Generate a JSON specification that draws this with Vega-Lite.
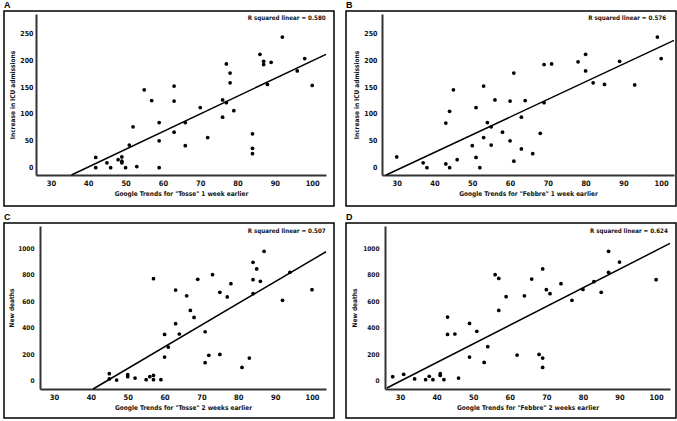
{
  "$schema": "https://vega.github.io/schema/vega-lite/v6.json",
  "padding": {"left": 3, "top": 0, "right": 0, "bottom": 0},
  "columns": 2,
  "spacing": {"row": 5, "column": 10},
  "datasets": {
    "A": [{"x":42,"y":19},{"x":42,"y":0},{"x":45,"y":9},{"x":46,"y":0},{"x":48,"y":15},{"x":49,"y":20},{"x":49,"y":12},{"x":49,"y":9},{"x":50,"y":0},{"x":51,"y":42},{"x":52,"y":76},{"x":53,"y":2},{"x":55,"y":145},{"x":57,"y":125},{"x":59,"y":84},{"x":59,"y":50},{"x":59,"y":0},{"x":63,"y":152},{"x":63,"y":124},{"x":63,"y":66},{"x":66,"y":84},{"x":66,"y":41},{"x":70,"y":112},{"x":72,"y":56},{"x":76,"y":94},{"x":76,"y":126},{"x":77,"y":193},{"x":77,"y":121},{"x":78,"y":176},{"x":78,"y":158},{"x":79,"y":106},{"x":84,"y":63},{"x":84,"y":36},{"x":84,"y":26},{"x":86,"y":211},{"x":87,"y":198},{"x":87,"y":192},{"x":88,"y":155},{"x":89,"y":196},{"x":92,"y":243},{"x":96,"y":180},{"x":98,"y":203},{"x":100,"y":153}],
    "fitA": [{"x":35.5,"y":-13.6},{"x":103.7,"y":211}],
    "B": [{"x":30,"y":20},{"x":37,"y":9},{"x":38,"y":0},{"x":43,"y":83},{"x":43,"y":7},{"x":44,"y":105},{"x":44,"y":0},{"x":45,"y":145},{"x":46,"y":15},{"x":50,"y":41},{"x":51,"y":112},{"x":51,"y":19},{"x":52,"y":0},{"x":53,"y":152},{"x":53,"y":56},{"x":54,"y":84},{"x":55,"y":42},{"x":55,"y":76},{"x":56,"y":126},{"x":58,"y":66},{"x":60,"y":124},{"x":60,"y":50},{"x":61,"y":176},{"x":61,"y":12},{"x":63,"y":94},{"x":63,"y":35},{"x":64,"y":125},{"x":66,"y":26},{"x":68,"y":64},{"x":69,"y":192},{"x":69,"y":121},{"x":71,"y":193},{"x":78,"y":197},{"x":80,"y":211},{"x":80,"y":180},{"x":82,"y":158},{"x":85,"y":155},{"x":89,"y":198},{"x":93,"y":154},{"x":99,"y":243},{"x":100,"y":203}],
    "fitB": [{"x":27.2,"y":-13.6},{"x":103.4,"y":237}],
    "C": [{"x":45,"y":53},{"x":45,"y":13},{"x":47,"y":5},{"x":50,"y":45},{"x":50,"y":30},{"x":52,"y":20},{"x":55,"y":8},{"x":56,"y":30},{"x":57,"y":769},{"x":57,"y":40},{"x":57,"y":8},{"x":59,"y":8},{"x":60,"y":349},{"x":60,"y":178},{"x":61,"y":254},{"x":63,"y":683},{"x":63,"y":430},{"x":64,"y":352},{"x":66,"y":640},{"x":67,"y":530},{"x":68,"y":477},{"x":69,"y":764},{"x":71,"y":369},{"x":71,"y":136},{"x":72,"y":191},{"x":73,"y":799},{"x":75,"y":666},{"x":75,"y":198},{"x":77,"y":631},{"x":78,"y":731},{"x":81,"y":100},{"x":83,"y":171},{"x":84,"y":892},{"x":84,"y":761},{"x":84,"y":656},{"x":85,"y":842},{"x":86,"y":749},{"x":87,"y":975},{"x":92,"y":606},{"x":94,"y":817},{"x":100,"y":686}],
    "fitC": [{"x":40.6,"y":-62.5},{"x":103.8,"y":972}],
    "D": [{"x":28,"y":30},{"x":31,"y":48},{"x":34,"y":13},{"x":37,"y":8},{"x":38,"y":33},{"x":39,"y":8},{"x":41,"y":53},{"x":41,"y":40},{"x":42,"y":8},{"x":43,"y":480},{"x":43,"y":349},{"x":45,"y":352},{"x":46,"y":20},{"x":49,"y":432},{"x":49,"y":178},{"x":51,"y":372},{"x":53,"y":138},{"x":54,"y":256},{"x":56,"y":799},{"x":57,"y":771},{"x":57,"y":530},{"x":59,"y":633},{"x":64,"y":640},{"x":62,"y":193},{"x":66,"y":766},{"x":68,"y":198},{"x":69,"y":842},{"x":69,"y":171},{"x":69,"y":100},{"x":70,"y":686},{"x":71,"y":656},{"x":74,"y":731},{"x":77,"y":606},{"x":80,"y":688},{"x":83,"y":746},{"x":85,"y":666},{"x":87,"y":975},{"x":87,"y":817},{"x":90,"y":894},{"x":100,"y":761}],
    "fitD": [{"x":26.4,"y":-55},{"x":103.8,"y":1035}]
  },
  "concat": [
    {
      "title": {"text": "A"},
      "width": 330, "height": 195,
      "layer": [
        {"data": {"name": "A"}, "mark": {"type": "circle", "size": 14, "color": "black", "opacity": 1},
         "encoding": {
           "x": {"field": "x", "type": "quantitative", "scale": {"domain": [26, 103.7], "range": [32, 322], "nice": false, "zero": false},
                 "axis": {"title": "Google Trends for \"Tosse\" 1 week earlier", "values": [30,40,50,60,70,80,90,100], "offset": -31}},
           "y": {"field": "y", "type": "quantitative", "scale": {"domain": [-13.6, 286], "range": [164, 3], "nice": false, "zero": false},
                 "axis": {"title": "Increase in ICU admissions", "values": [0,50,100,150,200,250], "offset": -32, "labelPadding": 3, "labelFontSize": 7, "titlePadding": 4}}
         }},
        {"data": {"name": "fitA"}, "mark": {"type": "line", "color": "black", "strokeWidth": 1.5},
         "encoding": {"x": {"field": "x", "type": "quantitative"}, "y": {"field": "y", "type": "quantitative"}}},
        {"data": {"values": [{"label": "R squared linear = 0.580"}]}, "mark": {"type": "text", "align": "right", "baseline": "middle"},
         "encoding": {"x": {"datum": 103.6}, "y": {"datum": 278}, "text": {"field": "label"}}}
      ]
    },
    {
      "title": {"text": "B"},
      "width": 330, "height": 195,
      "layer": [
        {"data": {"name": "B"}, "mark": {"type": "circle", "size": 14, "color": "black", "opacity": 1},
         "encoding": {
           "x": {"field": "x", "type": "quantitative", "scale": {"domain": [26.1, 103.4], "range": [36, 328], "nice": false, "zero": false},
                 "axis": {"title": "Google Trends for \"Febbre\" 1 week earlier", "values": [30,40,50,60,70,80,90,100], "offset": -31}},
           "y": {"field": "y", "type": "quantitative", "scale": {"domain": [-13.6, 286], "range": [164, 3], "nice": false, "zero": false},
                 "axis": {"title": "Increase in ICU admissions", "values": [0,50,100,150,200,250], "offset": -36, "labelPadding": 5, "labelFontSize": 7, "titlePadding": 4}}
         }},
        {"data": {"name": "fitB"}, "mark": {"type": "line", "color": "black", "strokeWidth": 1.5},
         "encoding": {"x": {"field": "x", "type": "quantitative"}, "y": {"field": "y", "type": "quantitative"}}},
        {"data": {"values": [{"label": "R squared linear = 0.576"}]}, "mark": {"type": "text", "align": "right", "baseline": "middle"},
         "encoding": {"x": {"datum": 101.3}, "y": {"datum": 278}, "text": {"field": "label"}}}
      ]
    },
    {
      "title": {"text": "C"},
      "width": 330, "height": 195,
      "layer": [
        {"data": {"name": "C"}, "mark": {"type": "circle", "size": 14, "color": "black", "opacity": 1},
         "encoding": {
           "x": {"field": "x", "type": "quantitative", "scale": {"domain": [26.2, 103.8], "range": [36, 322], "nice": false, "zero": false},
                 "axis": {"title": "Google Trends for \"Tosse\" 2 weeks earlier", "values": [30,40,50,60,70,80,90,100], "offset": -29}},
           "y": {"field": "y", "type": "quantitative", "scale": {"domain": [-62.5, 1166], "range": [166, 3], "nice": false, "zero": false},
                 "axis": {"title": "New deaths", "values": [0,200,400,600,800,1000], "format": "d", "offset": -36, "labelPadding": 6, "labelFontSize": 6.5, "titlePadding": 3}}
         }},
        {"data": {"name": "fitC"}, "mark": {"type": "line", "color": "black", "strokeWidth": 1.5},
         "encoding": {"x": {"field": "x", "type": "quantitative"}, "y": {"field": "y", "type": "quantitative"}}},
        {"data": {"values": [{"label": "R squared linear = 0.507"}]}, "mark": {"type": "text", "align": "right", "baseline": "middle"},
         "encoding": {"x": {"datum": 103.7}, "y": {"datum": 1130}, "text": {"field": "label"}}}
      ]
    },
    {
      "title": {"text": "D"},
      "width": 330, "height": 195,
      "layer": [
        {"data": {"name": "D"}, "mark": {"type": "circle", "size": 14, "color": "black", "opacity": 1},
         "encoding": {
           "x": {"field": "x", "type": "quantitative", "scale": {"domain": [25.9, 103.8], "range": [39, 324], "nice": false, "zero": false},
                 "axis": {"title": "Google Trends for \"Febbre\" 2 weeks earlier", "values": [30,40,50,60,70,80,90,100], "offset": -29}},
           "y": {"field": "y", "type": "quantitative", "scale": {"domain": [-62.5, 1166], "range": [166, 3], "nice": false, "zero": false},
                 "axis": {"title": "New deaths", "values": [0,200,400,600,800,1000], "format": "d", "offset": -39, "labelPadding": 6, "labelFontSize": 6.5, "titlePadding": 5}}
         }},
        {"data": {"name": "fitD"}, "mark": {"type": "line", "color": "black", "strokeWidth": 1.5},
         "encoding": {"x": {"field": "x", "type": "quantitative"}, "y": {"field": "y", "type": "quantitative"}}},
        {"data": {"values": [{"label": "R squared linear = 0.624"}]}, "mark": {"type": "text", "align": "right", "baseline": "middle"},
         "encoding": {"x": {"datum": 103.2}, "y": {"datum": 1130}, "text": {"field": "label"}}}
      ]
    }
  ],
  "config": {
    "font": "Liberation Sans Narrow, DejaVu Sans Condensed, Roboto, sans-serif",
    "view": {"stroke": "black", "strokeWidth": 1.5},
    "axis": {
      "domainColor": "#333333", "domainWidth": 2, "ticks": false, "grid": false,
      "labelOverlap": false, "tickCount": 20,
      "labelFont": "Liberation Sans Narrow, DejaVu Sans Condensed, Roboto, sans-serif",
      "labelFontSize": 7.5, "labelFontWeight": "bold", "labelColor": "#111111",
      "titleFont": "Liberation Sans Narrow, DejaVu Sans Condensed, Roboto, sans-serif",
      "titleFontSize": 6.5, "titleFontWeight": "bold", "titleColor": "#111111", "titlePadding": 5
    },
    "axisX": {"labelPadding": 4, "titlePadding": 4},
    "text": {"font": "Liberation Sans Narrow, DejaVu Sans Condensed, Roboto, sans-serif", "fontSize": 6.2, "fontWeight": "bold", "color": "#111111"},
    "title": {"anchor": "start", "fontSize": 9, "fontWeight": "bold", "offset": 1, "frame": "bounds", "font": "Liberation Sans, Arial, sans-serif"}
  }
}
